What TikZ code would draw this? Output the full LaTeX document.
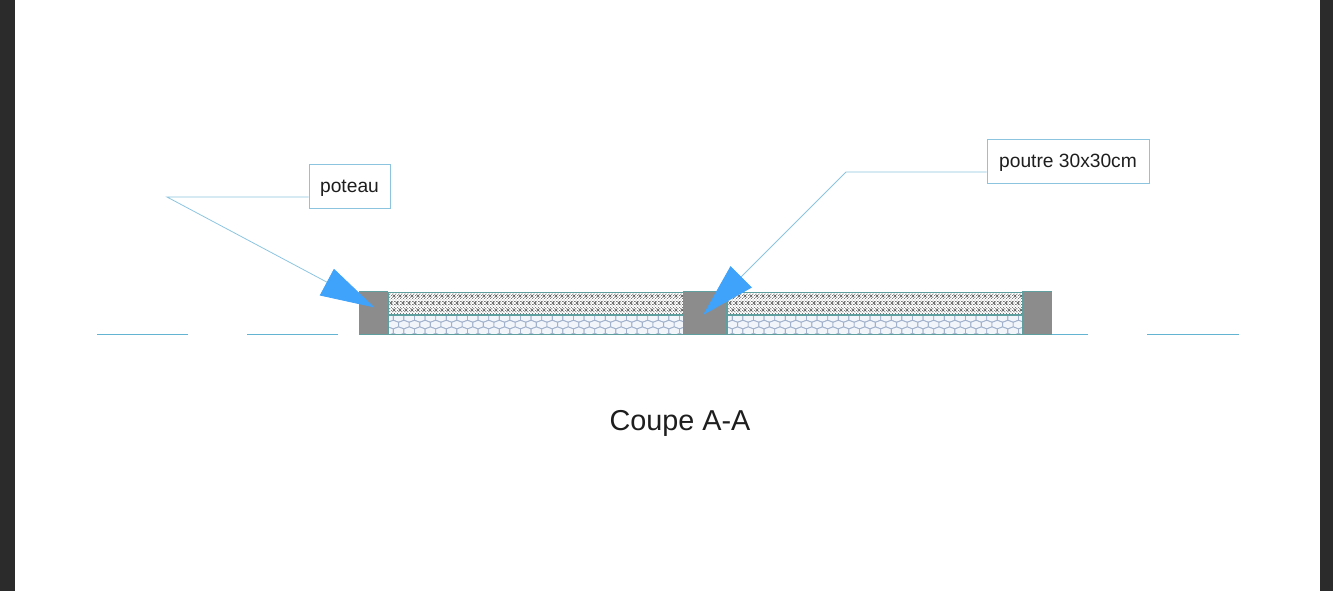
\documentclass[tikz,border=0pt]{standalone}
\usepackage{fontspec}
\setmainfont{Liberation Sans}
\usetikzlibrary{arrows.meta,patterns}
\definecolor{sidegray}{HTML}{2B2B2B}
\definecolor{arrowblue}{HTML}{3FA2FB}
\definecolor{leaderblue}{HTML}{8CC4E0}
\definecolor{groundblue}{HTML}{62B4D2}
\definecolor{edgeteal}{HTML}{5F9F9F}
\definecolor{postgray}{HTML}{8C8C8C}
\definecolor{hexblue}{HTML}{A2B2CC}
\definecolor{hexpale}{HTML}{F2F6FB}
\definecolor{stipplegray}{HTML}{5A5A5A}
\definecolor{inkgray}{HTML}{1E1E1E}
\tikzset{
  label box/.style={draw=leaderblue,fill=white,line width=0.8pt,inner sep=0pt,text=inkgray,text height=13.4pt,text depth=0pt,font=\fontsize{19.2}{22}\selectfont},
  leader/.style={draw=leaderblue,line width=0.8pt,-{Triangle[length=54pt,width=30pt,color=arrowblue,fill=arrowblue]}},
  ground/.style={groundblue,line width=0.8pt},
  post/.style={fill=postgray,draw=edgeteal,line width=0.9pt},
  edge/.style={draw=edgeteal,line width=0.9pt},
  hexcell/.style={draw=hexblue,fill=hexpale,line width=0.9pt},
  cross mark/.style={stipplegray,line width=0.55pt}
}
\newcommand{\stippleat}[1]{%
\foreach \r in {0,1,2}
  \foreach \c in {0,...,50}
    \draw[cross mark,xshift={#1+\c*6+mod(\r,2)*3},yshift={-(296+\r*7)}]
      (-1.6,-1.6) -- (1.6,1.6) (-1.6,1.6) -- (1.6,-1.6);
}
\newcommand{\honeycombat}[1]{%
\foreach \r in {0,...,3}
  \foreach \c in {0,...,28}
    \draw[hexcell,xshift={#1+\c*10.6+mod(\r,2)*5.3},yshift={-(318+\r*6.6)}]
      (-5.3,-2.3) -- (0,-4.3) -- (5.3,-2.3) -- (5.3,2.3) -- (0,4.3) -- (-5.3,2.3) -- cycle;
}
\begin{document}
\begin{tikzpicture}[x=1pt,y=-1pt]
\useasboundingbox (0,0) rectangle (1333,591);
\def\uppercourse{(388,292) rectangle (683,314)}
\def\uppercoursetwo{(727,292) rectangle (1022,314)}
\def\lowercourse{(388,315) rectangle (683,334)}
\def\lowercoursetwo{(727,315) rectangle (1022,334)}

\fill[sidegray] (0,0) rectangle (15,591);
\fill[sidegray] (1320,0) rectangle (1333,591);

% ground line
\coordinate (g1) at (97,334);
\coordinate (g2) at (188,334);
\coordinate (g3) at (247,334);
\coordinate (g4) at (338,334);
\coordinate (g5) at (1052,334);
\coordinate (g6) at (1088,334);
\coordinate (g7) at (1147,334);
\coordinate (g8) at (1239,334);
\draw[ground] (g1) -- (g2);
\draw[ground] (g3) -- (g4);
\draw[ground] (g5) -- (g6);
\draw[ground] (g7) -- (g8);

% stippled course
\fill[pattern=crosshatch dots,pattern color=stipplegray] \uppercourse;
\fill[pattern=crosshatch dots,pattern color=stipplegray] \uppercoursetwo;
\begin{scope}
\clip \uppercourse;
\stippleat{388}
\end{scope}
\begin{scope}
\clip \uppercoursetwo;
\stippleat{727}
\end{scope}

% hollow block course
\begin{scope}
\clip \lowercourse;
\honeycombat{388}
\end{scope}
\begin{scope}
\clip \lowercoursetwo;
\honeycombat{727}
\end{scope}

\draw[edge] \uppercourse;
\draw[edge] \uppercoursetwo;
\draw[edge] \lowercourse;
\draw[edge] \lowercoursetwo;

% posts
\draw[post] (359,291) rectangle (387.5,334);
\draw[post] (683,291) rectangle (726.5,334);
\draw[post] (1022,291) rectangle (1051.5,334);

% callouts
\node[label box,minimum width=81pt,minimum height=44pt] (poteau) at (349.5,186) {poteau};
\node[label box,minimum width=162pt,minimum height=44pt] (poutre) at (1068,161) {poutre 30x30cm};
\coordinate (poteaubend) at (167,197);
\coordinate (poteautip) at (374.5,307.5);
\coordinate (poutrebend) at (846,172);
\coordinate (poutretip) at (703,315);
\draw[leader] (poteau.west |- poteaubend) -- (poteaubend) -- (poteautip);
\draw[leader] (poutre.west |- poutrebend) -- (poutrebend) -- (poutretip);

\node[text=inkgray,font=\fontsize{28.8}{34}\selectfont] (title) at (680,423) {Coupe A-A};
\end{tikzpicture}
\end{document}
